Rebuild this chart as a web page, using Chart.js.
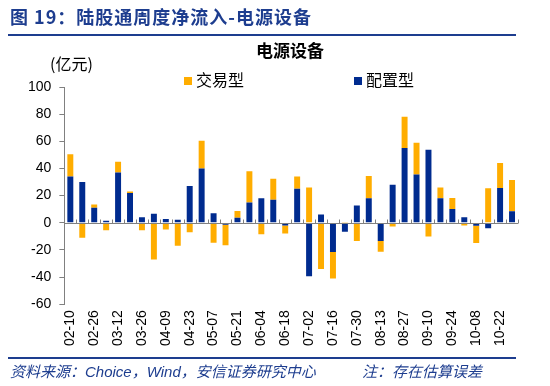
<!DOCTYPE html>
<html>
<head>
<meta charset="utf-8">
<script src="https://cdn.jsdelivr.net/npm/chart.js@4.4.1/dist/chart.umd.min.js"></script>
<style>
  html, body { margin: 0; padding: 0; background: #fff; }
  #wrap { position: relative; width: 550px; height: 386px; overflow: hidden; font-family: "Liberation Sans", Arial, "Noto Sans CJK SC", sans-serif; }
  #chart { position: absolute; left: 0; top: 0; }
  .head { position: absolute; left: 10px; top: 3px; font-size: 18px; font-weight: bold; color: #1d3d8f; font-family: "Noto Sans CJK SC", sans-serif; letter-spacing: 1px; }
  .rule { position: absolute; left: 8px; width: 508px; height: 2px; background: #1d3d8f; }
  .ctitle { position: absolute; left: 0; width: 580px; top: 37px; text-align: center; font-size: 17px; font-weight: bold; color: #000; font-family: "Noto Sans CJK SC", sans-serif; }
  .unit { position: absolute; left: 50px; top: 51px; font-size: 16px; color: #000; font-family: "Noto Sans CJK SC", sans-serif; }
  .leg { position: absolute; top: 67px; font-size: 16px; color: #000; font-family: "Noto Sans CJK SC", sans-serif; }
  .leg i { display: inline-block; width: 8px; height: 8px; margin-right: 4px; vertical-align: 1px; }
  .foot { position: absolute; top: 360px; font-size: 15px; font-style: italic; color: #1d3d8f; font-family: "Noto Sans CJK SC", sans-serif; }
</style>
</head>
<body>
<div id="wrap">
  <canvas id="chart" width="550" height="386"></canvas>
  <div class="head">图 19：陆股通周度净流入-电源设备</div>
  <div class="rule" style="top:34px"></div>
  <div class="ctitle">电源设备</div>
  <div class="unit">(亿元)</div>
  <div class="leg" style="left:184px"><i style="background:#ffad00"></i>交易型</div>
  <div class="leg" style="left:354px"><i style="background:#002b8f"></i>配置型</div>
  <div class="rule" style="top:357px; height:1.5px"></div>
  <div class="foot" style="left:10px">资料来源：<span style="font-family:'Liberation Sans',Arial">Choice</span>，<span style="font-family:'Liberation Sans',Arial">Wind</span>，安信证券研究中心</div>
  <div class="foot" style="left:362px">注：存在估算误差</div>
</div>
<script>
// weekly dates, every other one is shown on the axis
const weeks = ['02-10', '02-19', '02-26', '03-05', '03-12', '03-19', '03-26', '04-02', '04-09', '04-16',
  '04-23', '04-30', '05-07', '05-14', '05-21', '05-28', '06-04', '06-11', '06-18', '06-25',
  '07-02', '07-09', '07-16', '07-23', '07-30', '08-06', '08-13', '08-20', '08-27', '09-03',
  '09-10', '09-17', '09-24', '10-01', '10-08', '10-15', '10-22', '10-29'];

// 配置型 (allocation)
const allocFlow = [34, 30, 11, 1.5, 37, 22, 4, 6.7, 2.7, 2.2,
  27, 40, 7, -1.5, 3.7, 15, 18, 17, -2, 25,
  -39.5, 6, -21.5, -6.7, 12.7, 18, -13.4, 28, 55, 35.6,
  53.7, 18, 10.2, 4, -2.2, -4, 25.6, 8.5];

// 交易型 (trading)
const tradeFlow = [16.5, -11, 2.5, -5.5, 8, 1, -5.5, -27, -5, -17,
  -7, 20.4, -14.7, -15, 5, 23, -8.5, 15.5, -6, 9,
  26, -34, -19.5, 0.5, -13.4, 16.5, -8, -2.7, 23, 23.4,
  -10.2, 8, 8, -2, -12.7, 25.4, 18.4, 23];

const yTicks = [100, 80, 60, 40, 20, 0, -20, -40, -60];

// small upward tick marks on the zero line between the bars
const zeroTicks = {
  id: 'zeroTicks',
  afterDatasetsDraw(chart) {
    const x = chart.scales.x, y = chart.scales.y;
    const y0 = Math.round(y.getPixelForValue(0)) + 0.5;
    const half = (x.getPixelForValue(1) - x.getPixelForValue(0)) / 2;
    const ctx = chart.ctx;
    ctx.save();
    ctx.strokeStyle = '#808080';
    ctx.lineWidth = 1;
    ctx.beginPath();
    for (let i = 0; i <= weeks.length; i++) {
      const px = Math.round(x.getPixelForValue(i) - half) + 0.5;
      ctx.moveTo(px, y0);
      ctx.lineTo(px, y0 - 4);
    }
    ctx.moveTo(chart.chartArea.left, y0);
    ctx.lineTo(chart.chartArea.right, y0);
    ctx.stroke();
    ctx.restore();
  }
};

new Chart(document.getElementById('chart'), {
  type: 'bar',
  data: {
    labels: weeks,
    datasets: [
      { label: '配置型', data: allocFlow, backgroundColor: '#002b8f', barPercentage: 0.5, categoryPercentage: 1 },
      { label: '交易型', data: tradeFlow, backgroundColor: '#ffad00', barPercentage: 0.5, categoryPercentage: 1 }
    ]
  },
  options: {
    responsive: false,
    animation: false,
    layout: { padding: { top: 87, left: 20, right: 32, bottom: 34 } },
    plugins: { legend: { display: false }, tooltip: { enabled: false } },
    scales: {
      x: {
        stacked: true,
        grid: { display: false, drawTicks: false },
        border: { display: false },
        ticks: {
          autoSkip: false,
          minRotation: 90,
          maxRotation: 90,
          padding: 6,
          color: '#000',
          font: { family: 'Liberation Sans', size: 14 },
          callback: (v, i) => (i % 2 === 0 ? weeks[i] : '')
        }
      },
      y: {
        stacked: true,
        min: -60,
        max: 100,
        afterBuildTicks: (s) => { s.ticks = yTicks.map(v => ({ value: v })); },
        grid: { color: 'rgba(0,0,0,0)', tickColor: '#808080', tickLength: 5, drawOnChartArea: false },
        border: { display: true, color: '#808080' },
        ticks: { color: '#000', padding: 8, font: { family: 'Liberation Sans', size: 14 } }
      }
    }
  },
  plugins: [zeroTicks]
});
</script>
</body>
</html>
